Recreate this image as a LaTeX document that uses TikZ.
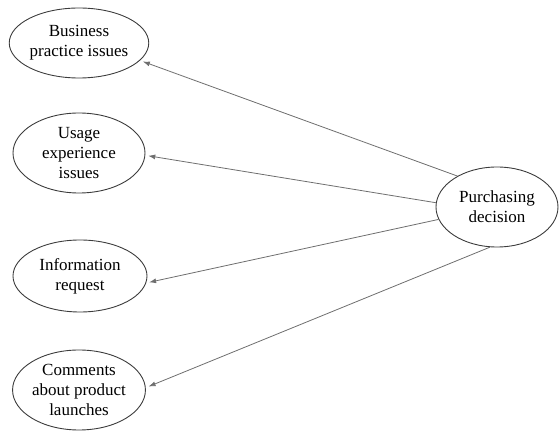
\documentclass[tikz,border=0pt]{standalone}
\usepackage{fontspec}
\setmainfont{Liberation Serif}
\usetikzlibrary{shapes.geometric,arrows.meta}
\definecolor{edgegray}{RGB}{60,60,60}
\definecolor{linegray}{RGB}{110,110,110}
\begin{document}
\begin{tikzpicture}[x=1pt,y=1pt,
  oval/.style={ellipse,draw=edgegray,line width=0.9pt,inner sep=0pt,align=center,
    font=\fontsize{17}{20}\selectfont,text=black},
  link/.style={draw=linegray,line width=0.8pt,shorten >=3pt,-{Latex[length=7pt,width=5pt]}}]
\useasboundingbox (0,0) rectangle (560,431);
\node[oval,minimum width=132pt,minimum height=70pt] (b) at (79,388) {Business\\practice issues};
\node[oval,minimum width=132pt,minimum height=80pt] (u) at (79,278) {Usage\\experience\\issues};
\node[oval,minimum width=134pt,minimum height=72pt] (i) at (80,155) {Information\\request};
\node[oval,minimum width=132pt,minimum height=80pt] (c) at (79,41) {Comments\\about product\\launches};
\node[oval,minimum width=122pt,minimum height=80pt] (p) at (497,224) {Purchasing\\decision};
\draw[link] (p.142) -- (b.344);
\draw[link] (p.176) -- (u.358);
\draw[link] (p.192) -- (i.354);
\draw[link] (p.260) -- (c.2);
\end{tikzpicture}
\end{document}
